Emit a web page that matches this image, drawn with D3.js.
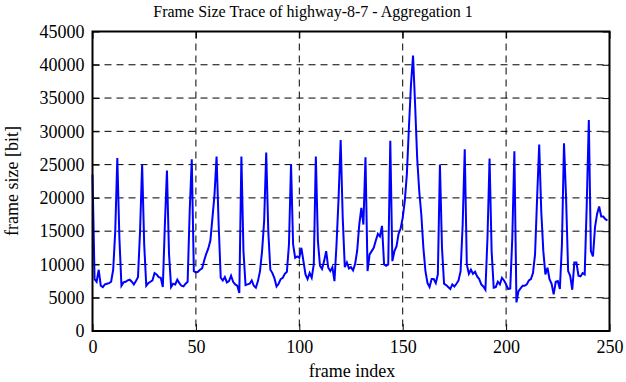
<!DOCTYPE html>
<html><head><meta charset="utf-8">
<script src="https://cdn.jsdelivr.net/npm/d3@7/dist/d3.min.js"></script>
<style>body{margin:0;background:#fff}svg{display:block}text{font-family:"Liberation Serif","DejaVu Serif",serif}</style>
</head><body><svg id="c" width="626" height="382"></svg>
<script>
const title = "Frame Size Trace of highway-8-7 - Aggregation 1";
const xLabel = "frame index";
const yLabel = "frame size [bit]";
const xTicks = [0, 50, 100, 150, 200, 250];
const yTicks = [0, 5000, 10000, 15000, 20000, 25000, 30000, 35000, 40000, 45000];
const frameSizes = [
23500,7800,7400,9200,6800,6600,7000,7100,7200,7400,9200,15000,26000,14000,6800,7300,7400,7600,7700,7400,
7000,7500,8100,15000,25000,13000,6800,7200,7400,7600,8700,8500,8100,8000,6600,16000,24100,11600,6600,7100,
7000,7700,7200,6800,6700,7100,7400,18000,25800,9000,8800,8900,9200,9400,10600,11600,12400,13600,17000,20500,
26200,16000,8000,7600,8100,7300,7500,8300,7400,7000,6800,5700,26200,12000,6900,7000,7100,7600,6800,6500,
7500,9000,12000,16500,26800,15000,9200,8700,7900,6700,7100,7800,8000,8600,8900,13000,25100,13000,11000,11200,
11000,12500,10500,8500,7800,8700,8000,10000,26200,13500,9800,9300,10500,12000,9500,9000,9600,7500,13000,20000,
28700,17000,9600,10300,9400,9600,9100,10100,12100,16000,18500,16000,26100,9000,11500,12000,12500,13600,14600,14200,
15800,10000,9800,10000,28600,10500,12000,12700,14600,15400,17000,19500,23500,30500,37000,41400,34000,26000,21000,17500,
12500,9000,7200,6600,7800,7800,7200,8500,25000,12500,7100,6900,6600,6300,7000,6700,7100,7600,9000,16000,
27300,10000,8600,9200,8600,8900,8200,7800,7000,6700,6200,14000,25900,12000,6500,6600,7400,7000,8000,7600,
7000,6300,6400,14000,27000,4300,6000,6400,6800,6800,7000,7600,7800,8700,11500,20000,28000,18000,12000,8500,
9500,7800,7100,5500,7400,7500,6300,13000,28200,20000,9000,8300,6200,10300,10300,8300,8200,8700,8500,19000,
31700,12000,11200,15600,17600,18700,17200,17200,16800,16600
];
const frames = frameSizes.map((_, i) => i);

const FONT = '"Liberation Serif","DejaVu Serif",serif';
const svg = d3.select("#c");
const L = 92.5, R = 609.5, T = 31.5, B = 331;
const x = d3.scaleLinear().domain([0, 250]).range([L, R]);
const y = d3.scaleLinear().domain([0, 45000]).range([B, T]);

// grid
const g = svg.append("g");
g.selectAll(".gx").data(xTicks.slice(1, -1)).join("line")
  .attr("x1", d => x(d)).attr("x2", d => x(d)).attr("y1", T).attr("y2", B)
  .attr("stroke", "#000").attr("stroke-width", 1).attr("stroke-dasharray", "7,5");
g.selectAll(".gy").data(yTicks.slice(1, -1)).join("line")
  .attr("y1", d => y(d)).attr("y2", d => y(d)).attr("x1", L).attr("x2", R)
  .attr("stroke", "#000").attr("stroke-width", 1).attr("stroke-dasharray", "7,5");

// axes
const ax = svg.append("g").attr("transform", `translate(0,${B})`)
  .call(d3.axisBottom(x).tickValues(xTicks).tickSize(-7).tickPadding(9).tickFormat(d3.format("d")));
const axT = svg.append("g").attr("transform", `translate(0,${T})`)
  .call(d3.axisTop(x).tickValues(xTicks).tickSize(-7).tickFormat(""));
const ay = svg.append("g").attr("transform", `translate(${L},0)`)
  .call(d3.axisLeft(y).tickValues(yTicks).tickSize(-7).tickPadding(16).tickFormat(d3.format("d")));
const ayR = svg.append("g").attr("transform", `translate(${R},0)`)
  .call(d3.axisRight(y).tickValues(yTicks).tickSize(-7).tickFormat(""));
[ax, axT, ay, ayR].forEach(a => {
  a.attr("font-family", FONT).attr("font-size", 18);
  a.select(".domain").remove();
  a.selectAll("line").attr("stroke", "#000").attr("stroke-width", 1);
  a.selectAll("text").attr("fill", "#000").attr("font-family", FONT).attr("font-size", 18);
});
// inward ticks: shift left-axis labels so their right edge sits ~8px from the frame
ay.selectAll("text").attr("x", -8);

// line
const line = d3.line().x(d => x(d[0])).y(d => y(d[1]));
svg.append("path").datum(frames.map((f, i) => [f, frameSizes[i]]))
  .attr("d", line).attr("fill", "none").attr("stroke", "#0000ff").attr("stroke-width", 2)
  .attr("stroke-linejoin", "miter");

// frame
svg.append("rect").attr("x", L).attr("y", T).attr("width", R - L).attr("height", B - T)
  .attr("fill", "none").attr("stroke", "#000").attr("stroke-width", 2);

// labels
svg.append("text").attr("x", 313).attr("y", 17).attr("text-anchor", "middle")
  .attr("font-family", FONT).attr("font-size", 16).text(title);
svg.append("text").attr("x", 352).attr("y", 377).attr("text-anchor", "middle")
  .attr("font-family", FONT).attr("font-size", 18).text(xLabel);
svg.append("text").attr("transform", "translate(18,181) rotate(-90)").attr("text-anchor", "middle")
  .attr("font-family", FONT).attr("font-size", 18).text(yLabel);
</script></body></html>
